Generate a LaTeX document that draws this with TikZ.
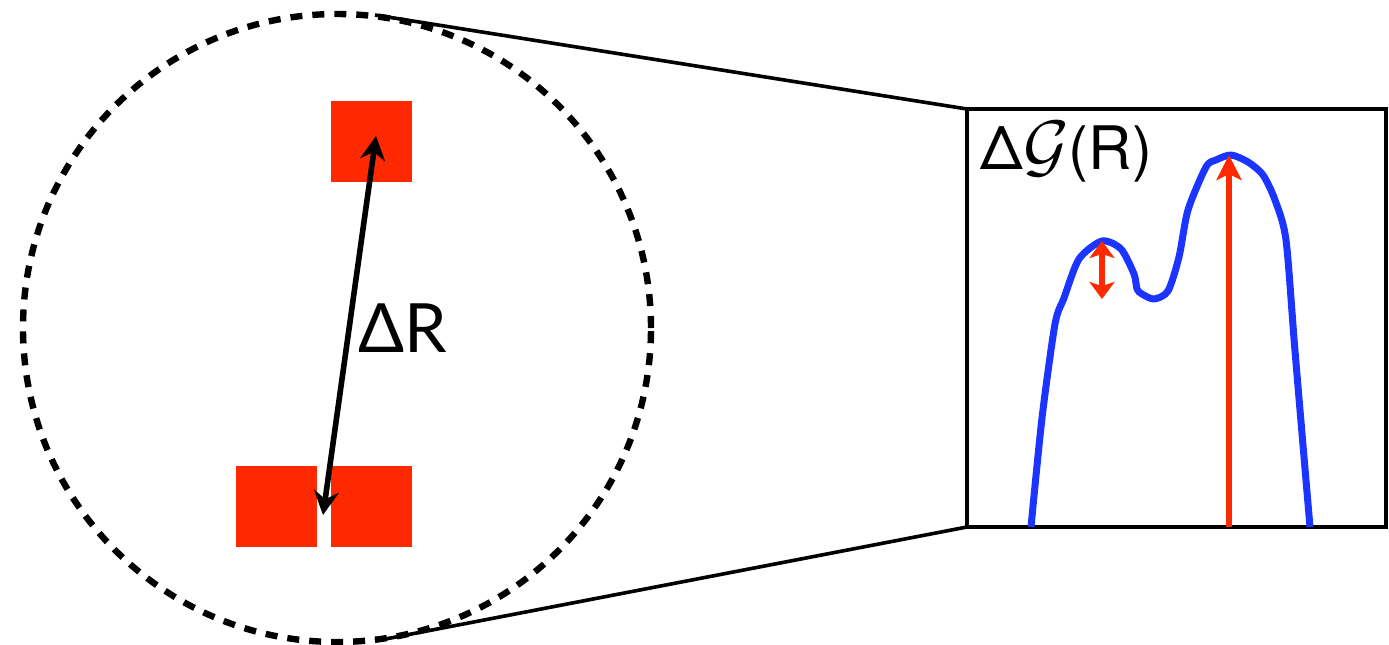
\RequirePackage{fix-cm}
\documentclass[tikz,border=0pt]{standalone}
\usepackage{fontspec}
\setmainfont{TeX Gyre Heros}
\newfontfamily\gillish{Lato}
\usetikzlibrary{arrows.meta}
\definecolor{myred}{RGB}{255,41,0}
\definecolor{myblue}{RGB}{28,52,255}
\tikzset{
  sq/.style={fill=myred, draw=none, minimum size=40.5pt, inner sep=0pt, outer sep=0pt},
  zoomline/.style={line width=1.8pt, black},
  blk/.style={line width=2.8pt, black, {Stealth[length=12pt,width=12.5pt,inset=4pt]}-{Stealth[length=12pt,width=12.5pt,inset=4pt]}},
  redup/.style={line width=2.8pt, myred, -{Stealth[length=12.5pt,width=12.5pt,inset=3pt]}},
  redboth/.style={line width=2.6pt, myred, {Stealth[length=8.5pt,width=12.5pt,inset=2pt]}-{Stealth[length=8.5pt,width=12.5pt,inset=2pt]}},
}
\begin{document}
\begin{tikzpicture}[x=0.5pt,y=-0.5pt]
\useasboundingbox (0,0) rectangle (1389,644);
% dashed circle
\draw[line width=3.2pt, dash pattern=on 6pt off 5pt] (337,328) circle [radius=157pt];
% zoom box and lines
\node[draw, line width=1.8pt, minimum width=209.5pt, minimum height=209pt, inner sep=0pt, outer sep=0pt, anchor=north west] (box) at (967,109) {};
\coordinate (ctop) at (375,15);
\coordinate (cbot) at (375,641);
\draw[zoomline] (ctop) -- (box.north west);
\draw[zoomline] (cbot) -- (box.south west);
% squares
\node[sq] (topsq) at (371,141.5) {};
\node[sq] (blsq) at (276.5,506.5) {};
\node[sq] (brsq) at (371,506.5) {};
% distance arrow
\coordinate (a1) at (323,515);
\coordinate (a2) at (376,136);
\draw[blk] (a1) -- (a2);
\node[anchor=base west, inner sep=0pt, font=\gillish\fontsize{34}{38}\selectfont] (dr) at (358,352) {ΔR};
% label
\node[anchor=base west, inner sep=0pt, font=\fontsize{30}{35}\selectfont] (lab) at (980,169) {Δ{\fontsize{35}{40}\selectfont$\mathcal{G}$}(R)};
% curve
\draw[myblue, line width=3.5pt, line join=round] plot[smooth, tension=0.45] coordinates {
(1031,527) (1042,418) (1055,324) (1064,298) (1079,259) (1102,241) (1121,249) (1134,274) (1137,289) (1142,294) (1154,299) (1168,291) (1179,257) (1188,210) (1206,167) (1216,160) (1231,155) (1248,162) (1263,175) (1275,200) (1286,240) (1295,351) (1310,527)};
% red arrows
\coordinate (b0) at (1229,527);
\coordinate (b1) at (1229,155);
\draw[redup] (b0) -- (b1);
\coordinate (c0) at (1102,299);
\coordinate (c1) at (1102,241);
\draw[redboth] (c0) -- (c1);
\end{tikzpicture}
\end{document}
